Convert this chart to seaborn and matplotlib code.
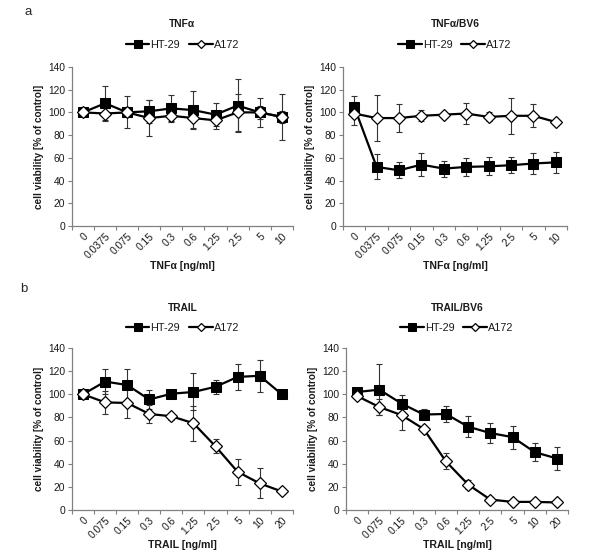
import numpy as np
import pandas as pd
import matplotlib
matplotlib.use("Agg")
import matplotlib.pyplot as plt
import seaborn as sns

# ---------------- data ----------------
tnf_doses = ["0", "0.0375", "0.075", "0.15", "0.3", "0.6", "1.25", "2.5", "5", "10"]
trail_doses = ["0", "0.075", "0.15", "0.3", "0.6", "1.25", "2.5", "5", "10", "20"]

tnf_ht29 = [100, 108, 100, 101, 103.5, 102, 98, 106, 100, 96]
tnf_ht29_err = [1, 15, 14, 10, 12, 17, 10, 23, 13, 20]
tnf_a172 = [100, 99, 100, 95, 97, 95, 93, 100, 100, 96]
tnf_a172_err = [1, 7, 3, 16, 5, 9, 8, 16, 6, 5]

tnfbv6_ht29 = [105, 52, 49, 54, 50.5, 52, 52.5, 53.5, 55, 56]
tnfbv6_ht29_err = [9, 11, 7, 10, 7, 8, 8, 7, 9, 9]
tnfbv6_a172 = [99, 95, 95, 97, 98, 99, 96, 97, 97, 91.5]
tnfbv6_a172_err = [10, 20, 12, 5, 1, 9, 4, 16, 10, 3]

trail_ht29 = [100, 111, 108, 95.5, 100.5, 102, 106.5, 115, 116, 100]
trail_ht29_err = [0.5, 11, 14, 8, 3, 16, 6, 11, 14, 0.5]
trail_a172 = [100, 93, 92.5, 83, 81, 75, 55, 33, 23, 16]
trail_a172_err = [0.5, 10, 13, 8, 3, 15, 6, 11, 13, 1]

trailbv6_ht29 = [102, 104, 92, 82.5, 83, 72, 66.5, 63, 50, 44.5]
trailbv6_ht29_err = [2, 22, 7, 5, 7, 9, 9, 10, 8, 10]
trailbv6_a172 = [98.5, 89, 82, 70, 42, 22, 9, 7, 7, 6.5]
trailbv6_a172_err = [1, 7, 13, 1, 7, 4, 1, 1, 1, 1]

panels = [
    ("TNFα", "TNFα [ng/ml]", tnf_doses, tnf_ht29, tnf_ht29_err, tnf_a172, tnf_a172_err),
    ("TNFα/BV6", "TNFα [ng/ml]", tnf_doses, tnfbv6_ht29, tnfbv6_ht29_err, tnfbv6_a172, tnfbv6_a172_err),
    ("TRAIL", "TRAIL [ng/ml]", trail_doses, trail_ht29, trail_ht29_err, trail_a172, trail_a172_err),
    ("TRAIL/BV6", "TRAIL [ng/ml]", trail_doses, trailbv6_ht29, trailbv6_ht29_err, trailbv6_a172, trailbv6_a172_err),
]

# ---------------- style ----------------
sns.set_theme(style="white")
plt.rcParams["font.family"] = ["Liberation Sans", "DejaVu Sans"]

fig = plt.figure(figsize=(6.0, 5.57), dpi=100)

rects = [
    (0.120, 0.5943, 0.368, 0.2855),
    (0.5717, 0.5943, 0.3733, 0.2855),
    (0.120, 0.0844, 0.368, 0.2908),
    (0.5767, 0.0844, 0.370, 0.2908),
]
title_y = [0.957, 0.957, 0.447, 0.447]
legend_y = [0.919, 0.919, 0.411, 0.411]
xlabel_y = [0.523, 0.523, 0.0215, 0.0215]

axis_col = "#808080"
txt_col = "#1a1a1a"

for i, (title, xlabel, doses, ht, hte, a1, a1e) in enumerate(panels):
    ax = fig.add_axes(rects[i])
    pos = np.arange(len(doses))
    df = pd.DataFrame({"pos": pos, "dose": doses, "HT-29": ht, "A172": a1})

    ax.errorbar(pos, ht, yerr=hte, fmt="none", ecolor="#333333",
                elinewidth=0.8, capsize=2, capthick=0.8, zorder=1)
    ax.errorbar(pos, a1, yerr=a1e, fmt="none", ecolor="#333333",
                elinewidth=0.8, capsize=2, capthick=0.8, zorder=1)

    sns.lineplot(data=df, x="pos", y="HT-29", ax=ax, color="black",
                 linewidth=1.6, marker="s", markersize=7,
                 markerfacecolor="black", markeredgecolor="black",
                 label="HT-29", legend=False, zorder=3)
    sns.lineplot(data=df, x="pos", y="A172", ax=ax, color="black",
                 linewidth=1.6, marker="D", markersize=5.8,
                 markerfacecolor="white", markeredgecolor="black",
                 markeredgewidth=0.9, label="A172", legend=False, zorder=4)

    ax.set_xlim(-0.5, len(doses) - 0.5)
    ax.set_ylim(0, 140)
    ax.set_yticks(np.arange(0, 141, 20))
    ax.set_xticks(pos)
    ax.set_xticklabels(doses, rotation=45, ha="right", rotation_mode="anchor",
                       fontsize=7.4, color=txt_col)
    ax.set_xticks(np.arange(-0.5, len(doses), 1), minor=True)
    ax.tick_params(axis="x", which="major", length=0, pad=4)
    ax.tick_params(axis="x", which="minor", length=3, width=0.8, color=axis_col,
                   direction="out", bottom=True)
    ax.tick_params(axis="y", which="major", length=3, width=0.8, color=axis_col,
                   direction="out", left=True, labelsize=7.4, labelcolor=txt_col, pad=2)

    for s in ["top", "right"]:
        ax.spines[s].set_visible(False)
    for s in ["left", "bottom"]:
        ax.spines[s].set_color(axis_col)
        ax.spines[s].set_linewidth(0.9)

    ax.set_xlabel("")
    ax.set_ylabel("cell viability [% of control]", fontsize=7.2, fontweight="bold",
                  labelpad=3, color=txt_col)

    cx = rects[i][0] + rects[i][2] / 2
    fig.text(cx, title_y[i], title, ha="center", va="center", fontsize=7.4,
             fontweight="bold", color=txt_col)
    fig.text(cx, xlabel_y[i], xlabel, ha="center", va="center", fontsize=7.6,
             fontweight="bold", color=txt_col)
    handles, labels = ax.get_legend_handles_labels()
    fig.legend(handles, labels, loc="center", bbox_to_anchor=(cx, legend_y[i]),
               ncol=2, frameon=False, fontsize=7.8, handlelength=2.2,
               handletextpad=0.1, columnspacing=0.8, borderaxespad=0,
               markerscale=0.75, labelcolor=txt_col)

fig.text(0.047, 0.978, "a", ha="center", va="center", fontsize=9.5)
fig.text(0.040, 0.481, "b", ha="center", va="center", fontsize=9.5)

fig.savefig("out.png", dpi=100)
